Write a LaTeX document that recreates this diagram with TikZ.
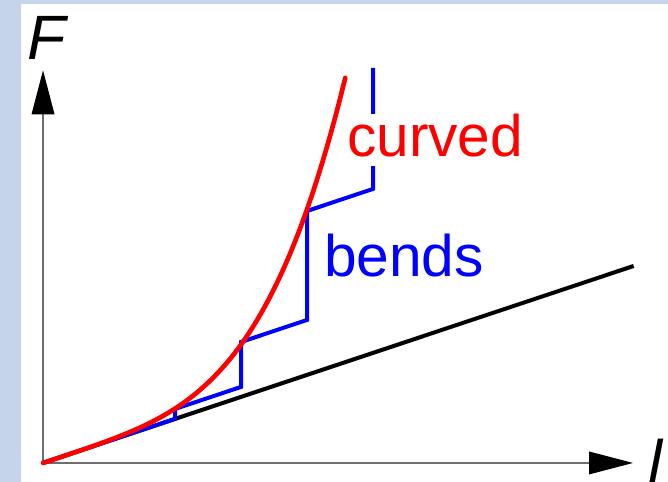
\documentclass[tikz,border=0pt]{standalone}
\usepackage{fontspec}
\setmainfont{Liberation Sans}
\setsansfont{Liberation Sans}
\usetikzlibrary{arrows.meta,positioning,calc}
\definecolor{framebg}{RGB}{197,212,234}
\definecolor{axisgray}{RGB}{110,110,110}
\tikzset{every picture/.style={line width=0.75pt}}
\tikzset{
    axis/.style={draw=axisgray, line width=1pt, -{Triangle[length=33pt, width=17pt, color=black, fill=black]}},
    biglabel/.style={font=\fontsize{44}{48}\selectfont\sffamily, inner sep=0pt},
    axislabel/.style={font=\fontsize{47}{50}\selectfont\sffamily\itshape, inner sep=0pt},
}

\begin{document}
\begin{tikzpicture}[x=49.5pt, y=49.5pt]
    % frame
    \fill[framebg] (-0.652,-0.288) rectangle (9.47,7.015);
    \fill[white] (-0.333,-0.288) rectangle (9.47,6.955);
    \useasboundingbox (-0.652,-0.288) rectangle (9.47,7.015);

    \coordinate (O) at (0,0);
    \coordinate (xend) at (8.94,0);
    \coordinate (yend) at (0,5.95);
    \coordinate (lin) at (8.95,2.985);

    % axes
    \draw[axis] (O) -- (xend);
    \draw[axis] (O) -- (yend);
    \node[axislabel, anchor=base] (F) at (0.05,6.12) {F};
    \node[axislabel, anchor=base] (l) at (9.28,-0.33) {l};

    % linear
    \draw[black, line width=3pt] (O) -- (lin);

    % bends
    \draw[blue, line width=3pt, line join=miter]
        (O) -- (2,0.667) -- (2,0.818) -- (3,1.152) -- (3,1.833)
        -- (4,2.167) -- (4,3.818) -- (5,4.152) -- (5,5.985);
    \node[biglabel, text=blue, anchor=base west] (bends) at (4.25,2.83) {bends};

    % curved
    \draw[red, line width=3.5pt, line cap=round]
        plot[domain=0:4.58, samples=80, smooth] (\x, {\x/3 + 0.0098*\x^4});
    \node[biglabel, text=red, fill=white, anchor=base west, text depth=7pt] (curved) at (4.6,4.64) {curved};
\end{tikzpicture}
\end{document}
